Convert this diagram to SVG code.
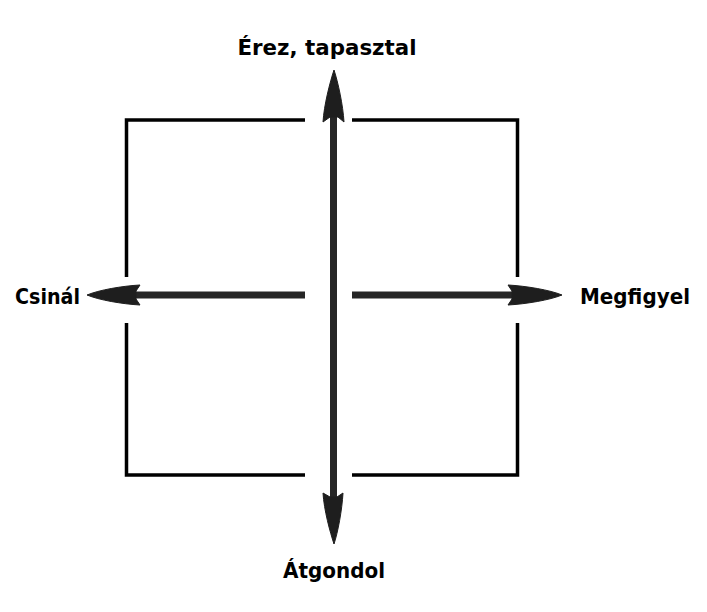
<svg xmlns="http://www.w3.org/2000/svg" width="707" height="612" viewBox="0 0 707 612">
<style>
.frame{fill:none;stroke:#000;stroke-width:3.5;stroke-linecap:butt;stroke-linejoin:miter}
.shaft{stroke:#262626;stroke-width:7;fill:none}
.head{fill:#1e1e1e;stroke:#1e1e1e;stroke-width:1}
.lbl{font-family:"Comic Sans MS","DejaVu Sans",sans-serif;font-weight:bold;font-size:21px;fill:#000}
</style>
<rect width="707" height="612" fill="#fff"/>
<g id="frame">
<path class="frame" d="M305,120 H126.5 V277"/>
<path class="frame" d="M352,120 H517.5 V277"/>
<path class="frame" d="M126.5,323 V475 H305"/>
<path class="frame" d="M517.5,323 V475 H352"/>
</g>
<g id="connectors">
<line class="shaft" x1="333.5" y1="112" x2="333.5" y2="500"/>
<line class="shaft" x1="305" y1="295" x2="135" y2="295"/>
<line class="shaft" x1="352" y1="295" x2="515" y2="295"/>
<path class="head" d="M334,70 C338,82 343,105 344,122 L338,117 L330,117 L323,122 C324,105 330,82 334,70 Z"/>
<path class="head" d="M334,544 C338,532 342,510 343,493 L337,497 L330,497 L323,493 C324,510 330,532 334,544 Z"/>
<path class="head" d="M87,295 C99,290 122,286 140,285 L136,291 L136,299 L140,305 C122,304 99,300 87,295 Z"/>
<path class="head" d="M562,295 C550,290 526,286 508,285 L512,291 L512,299 L508,305 C526,304 550,300 562,295 Z"/>
</g>
<g id="node-top"><text class="lbl" x="327" y="55" text-anchor="middle" textLength="179" lengthAdjust="spacingAndGlyphs">Érez, tapasztal</text></g>
<g id="node-left"><text class="lbl" x="15" y="304" textLength="65" lengthAdjust="spacingAndGlyphs">Csinál</text></g>
<g id="node-right"><text class="lbl" x="580" y="304" textLength="110" lengthAdjust="spacingAndGlyphs">Megfigyel</text></g>
<g id="node-bottom"><text class="lbl" x="334" y="578" text-anchor="middle" textLength="102" lengthAdjust="spacingAndGlyphs">Átgondol</text></g>
</svg>
